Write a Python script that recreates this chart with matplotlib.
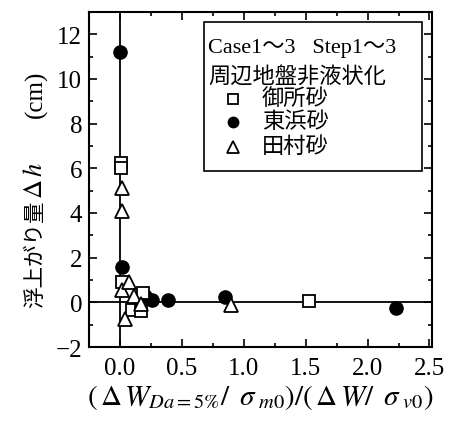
import matplotlib
matplotlib.use("Agg")
import matplotlib.pyplot as plt
import matplotlib.ticker as mticker
from matplotlib.patches import Rectangle

plt.rcParams['font.family'] = ['Liberation Serif', 'Noto Sans CJK JP']
plt.rcParams['mathtext.fontset'] = 'stix'

# 御所砂
gosho_x = [0.01, 0.01, 0.013, 0.10, 0.17, 0.19, 1.53]
gosho_y = [6.25, 6.0, 0.9, -0.35, -0.4, 0.4, 0.05]
# 東浜砂
tohama_x = [0.0, 0.013, 0.20, 0.255, 0.39, 0.85, 2.23]
tohama_y = [11.2, 1.6, 0.3, 0.1, 0.1, 0.23, -0.25]
# 田村砂
tamura_x = [0.02, 0.02, 0.013, 0.07, 0.11, 0.17, 0.04, 0.90]
tamura_y = [5.1, 4.1, 0.55, 0.9, 0.3, -0.06, -0.73, -0.14]

fig = plt.figure(figsize=(4.6, 4.27), dpi=100)
ax = fig.add_axes([0.1935, 0.185, 0.7455, 0.785])

ax.axhline(0, color='black', lw=1.3, zorder=1)
ax.axvline(0, color='black', lw=1.3, zorder=1)

ms = 9.5
sq_style = dict(marker='s', ms=ms - 1, mfc='white', mec='black', mew=1.3, ls='none')
ci_style = dict(marker='o', ms=ms, mfc='black', mec='black', ls='none')
tr_style = dict(marker='^', ms=ms + 1, mfc='white', mec='black', mew=1.3, ls='none')
ax.plot(gosho_x, gosho_y, zorder=3, **sq_style)
ax.plot(tohama_x, tohama_y, zorder=2, **ci_style)
ax.plot(tamura_x, tamura_y, zorder=4, **tr_style)

ax.set_xlim(-0.25, 2.52)
ax.set_ylim(-2, 13)
ax.xaxis.set_major_locator(mticker.MultipleLocator(0.5))
ax.xaxis.set_minor_locator(mticker.MultipleLocator(0.25))
ax.yaxis.set_major_locator(mticker.MultipleLocator(2))
ax.yaxis.set_minor_locator(mticker.MultipleLocator(1))
ax.xaxis.set_major_formatter(mticker.FormatStrFormatter('%.1f'))
ax.tick_params(which='both', direction='in', top=True, right=True, width=1.2)
ax.tick_params(which='major', length=6, labelsize=18)
ax.tick_params(axis='x', which='major', pad=7)
ax.tick_params(axis='y', which='major', pad=5)
ax.tick_params(which='minor', length=3)
for s in ax.spines.values():
    s.set_linewidth(1.5)

ax.set_xlabel(r'$(\,\Delta\,W_{Da=5\%}/\ \,\sigma_{\ m0})/(\,\Delta\,W/\ \,\sigma_{\ v0})$',
              fontsize=21, labelpad=2)

# y label in pieces so the kana/kanji and the math part use their own fonts
x_lab = 0.078
fig.text(x_lab, 0.279, '浮上がり量', rotation=90, ha='center', va='bottom', fontsize=15.5)
fig.text(x_lab, 0.533, r'$\Delta\,h$', rotation=90, ha='center', va='bottom', fontsize=19)
fig.text(x_lab, 0.724, '(cm)', rotation=90, ha='center', va='bottom', fontsize=18)

# legend box drawn by hand
ax.add_patch(Rectangle((0.335, 0.525), 0.636, 0.445, transform=ax.transAxes,
                       fill=True, fc='white', ec='black', lw=1.2, zorder=5))
leg_fs = 16
ax.text(0.347, 0.893, 'Case1～3   Step1～3', transform=ax.transAxes,
        fontsize=leg_fs, va='center', ha='left', zorder=6)
ax.text(0.347, 0.809, '周辺地盤非液状化', transform=ax.transAxes,
        fontsize=leg_fs, va='center', ha='left', zorder=6)
rows = [(0.740, '御所砂', sq_style, 7), (0.672, '東浜砂', ci_style, 7.5), (0.597, '田村砂', tr_style, 8.5)]
for ry, name, style, mk in rows:
    st = dict(style)
    st['ms'] = mk
    ax.plot([0.420], [ry], transform=ax.transAxes, zorder=6, clip_on=False, **st)
    ax.text(0.504, ry, name, transform=ax.transAxes, fontsize=leg_fs,
            va='center', ha='left', zorder=6)

fig.savefig('out.png', dpi=100)
